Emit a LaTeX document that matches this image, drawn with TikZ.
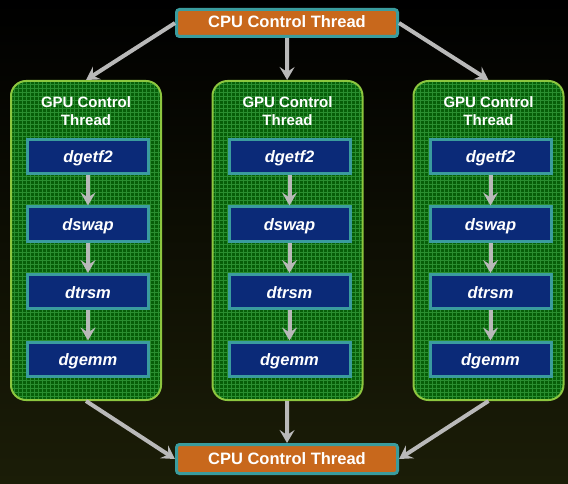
\documentclass[tikz,border=0pt]{standalone}
\usepackage{fontspec}
\setmainfont{Liberation Sans}
\usetikzlibrary{arrows.meta}

\definecolor{cpuorange}{HTML}{C8681C}
\definecolor{boxedge}{HTML}{3A9C9E}
\definecolor{panelgreen}{HTML}{075E08}
\definecolor{gridgreen}{HTML}{2A8E30}
\definecolor{paneledge}{HTML}{8CC63F}
\definecolor{kernelblue}{HTML}{0B2A78}
\definecolor{arrowgray}{HTML}{B9B9B9}
\definecolor{bgbottom}{HTML}{1B1D07}

\tikzset{
	cpu/.style={draw=boxedge, line width=3pt, fill=cpuorange, rounded corners=3pt, minimum width=221pt, minimum height=27pt, inner sep=0pt, text height=10pt, text depth=0pt, text=white, font=\fontsize{16.5}{18}\selectfont\bfseries},
	panel/.style={draw=paneledge, line width=2pt, fill=panelgreen, rounded corners=15pt, minimum width=150pt, minimum height=319pt,
		path picture={\draw[gridgreen, line width=0.45pt, step=4pt] (path picture bounding box.south west) grid (path picture bounding box.north east);}},
	gputitle/.style={align=center, inner sep=0pt, text=white, font=\fontsize{15}{18}\selectfont\bfseries},
	kernel/.style={draw=boxedge, line width=3pt, fill=kernelblue, minimum width=121pt, minimum height=34pt, inner sep=0pt, text height=13pt, text depth=0pt, text=white, font=\fontsize{16.5}{18}\selectfont\bfseries\itshape},
	flow/.style={arrowgray, line width=4pt, -{Stealth[length=13pt, width=15pt, inset=5pt]}},
}

\begin{document}
\begin{tikzpicture}[x=1pt, y=-1pt]
	\useasboundingbox (0, 0) rectangle (568, 484) ;
	\shade[top color=black, middle color=black, bottom color=bgbottom] (0, 0) rectangle (568, 484) ;

	\node[cpu] (cpuT) at (287, 23) {CPU Control Thread} ;
	\node[cpu, minimum height=29pt] (cpuB) at (287, 459) {CPU Control Thread} ;

	\foreach \i/\x in {1/86, 2/287.5, 3/488.5} {
		\node[panel] (p\i) at (\x, 240.5) {} ;
		\node[gputitle] (t\i) at (\x, 111.5) {GPU Control\\Thread} ;
		\foreach \k/\y/\name in {1/156.5/dgetf2, 2/224/dswap, 3/291.5/dtrsm, 4/359/dgemm} {
			\node[kernel] (k\i\k) at (\x + 2, \y) {\name} ;
		}
		\foreach \k/\n in {1/2, 2/3, 3/4} {
			\draw[flow] (k\i\k) -- (k\i\n) ;
		}
	}

	\draw[flow] (cpuT.west) -- (p1.north) ;
	\draw[flow] (cpuT) -- (p2) ;
	\draw[flow] (cpuT.east) -- (p3.north) ;
	\draw[flow] (p1.south) -- (cpuB.west) ;
	\draw[flow] (p2) -- (cpuB) ;
	\draw[flow] (p3.south) -- (cpuB.east) ;
\end{tikzpicture}
\end{document}
